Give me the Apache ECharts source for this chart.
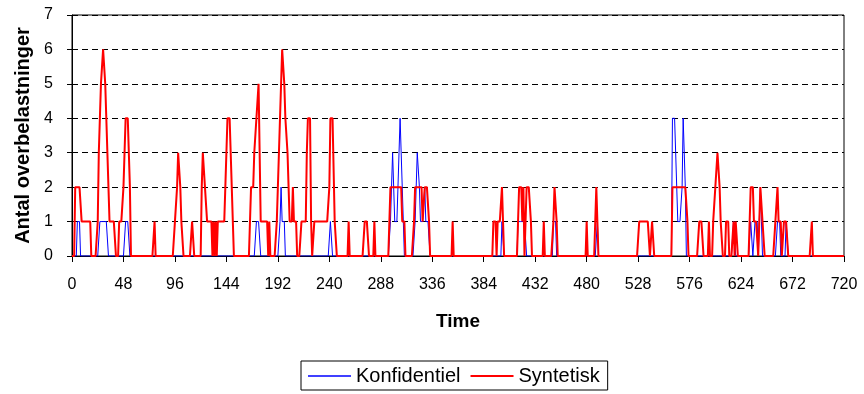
<!DOCTYPE html>
<html>
<head>
<meta charset="utf-8">
<script src="https://cdn.jsdelivr.net/npm/echarts@6/dist/echarts.min.js"></script>
<style>
  html, body { margin: 0; padding: 0; background: #ffffff; }
  #chart { width: 864px; height: 394px; }
</style>
</head>
<body>
<div id="chart"></div>
<script>
// Number of overloads per hour, 30 days (one row per day) plus the closing hour 720.
const konfidentiel = [
  0,0,0,0,0,1,1,1,0,0,0,0,0,0,0,0,0,0,0,0,0,0,0,0,
  0,0,1,1,1,1,1,1,1,1,0,0,0,0,0,0,0,0,0,0,0,0,0,0,
  0,0,1,1,1,1,0,0,0,0,0,0,0,0,0,0,0,0,0,0,0,0,0,0,
  0,0,0,0,0,0,0,0,0,0,0,0,0,0,0,0,0,0,0,0,0,0,0,0,
  0,0,0,0,0,0,0,0,0,0,0,0,0,0,0,0,0,0,0,0,0,0,0,0,
  0,0,0,0,0,0,0,0,0,0,0,0,0,0,0,0,0,0,0,0,0,0,0,0,
  0,0,0,0,0,0,0,0,0,0,0,0,0,0,0,0,0,0,0,0,0,0,0,0,
  0,0,0,0,1,1,1,1,0,0,0,0,0,0,0,0,0,0,0,0,0,0,0,0,
  0,0,1,2,1,1,1,0,0,0,0,0,0,0,0,0,0,0,0,0,0,0,0,0,
  0,0,0,0,0,0,0,0,0,0,0,0,0,0,0,0,0,0,0,0,0,0,0,0,
  0,1,1,0,0,0,0,0,0,0,0,0,0,0,0,0,0,0,0,0,0,0,0,0,
  0,0,0,0,0,0,0,0,0,0,0,0,0,0,0,0,0,0,0,0,0,0,0,0,
  0,0,0,0,0,0,0,0,0,1,2,3,3,1,1,1,2,3,4,4,2,1,0,0,
  0,0,0,0,0,0,0,0,1,2,3,3,2,1,1,1,1,2,1,1,1,1,0,0,
  0,0,0,0,0,0,0,0,0,0,0,0,0,0,0,0,0,0,0,0,0,0,0,0,
  0,0,0,0,0,0,0,0,0,0,0,0,0,0,0,0,0,0,0,0,0,0,0,0,
  0,0,0,0,0,0,0,0,0,0,0,0,0,0,0,0,0,1,1,0,0,0,0,0,
  0,0,0,0,0,0,0,0,1,1,1,1,1,1,1,1,0,0,0,0,0,0,0,0,
  0,0,0,0,0,0,0,0,0,0,0,0,0,0,0,0,0,1,1,1,0,0,0,0,
  0,0,0,0,0,0,0,0,0,0,0,0,0,0,0,0,0,0,0,0,0,0,0,0,
  0,0,0,0,0,0,0,0,0,0,1,0,0,0,0,0,0,0,0,0,0,0,0,0,
  0,0,0,0,0,0,0,0,0,0,0,0,0,0,0,0,0,0,0,0,0,0,0,0,
  0,0,0,0,0,0,0,0,0,0,0,0,0,0,0,0,0,0,0,0,0,0,0,0,
  0,0,0,0,0,0,0,0,4,4,4,3,2,1,1,1,1,2,4,3,2,0,0,0,
  0,0,0,0,0,0,0,0,0,0,0,0,0,0,0,0,0,0,0,0,0,0,0,0,
  0,0,0,0,0,0,0,0,0,0,0,0,0,0,0,0,0,1,1,0,0,0,0,0,
  0,0,0,0,0,0,0,0,0,1,1,0,0,1,1,1,0,1,2,1,0,0,0,0,
  0,0,0,0,0,0,0,0,0,0,1,1,1,0,0,0,0,0,1,1,0,0,0,0,
  0,0,0,0,0,0,0,0,0,0,0,0,0,0,0,0,0,0,0,0,0,0,0,0,
  0,0,0,0,0,0,0,0,0,0,0,0,0,0,0,0,0,0,0,0,0,0,0,0,
  0
];

const syntetisk = [
  0,0,0,2,2,2,2,2,2,1,1,1,1,1,1,1,1,1,0,0,0,0,0,0,
  1,3,4,5,5,6,6,5,4,4,2,1,1,1,1,1,1,0,0,0,1,1,1,1,
  2,3,4,4,4,4,2,0,0,0,0,0,0,0,0,0,0,0,0,0,0,0,0,0,
  0,0,0,0,0,1,0,0,0,0,0,0,0,0,0,0,0,0,0,0,0,0,0,0,
  1,1,2,3,3,2,1,1,0,0,0,0,0,0,0,0,1,1,0,0,0,0,0,0,
  0,2,3,3,2,2,1,1,1,1,1,0,1,0,1,0,1,1,1,1,1,1,1,2,
  3,4,4,4,4,2,1,0,0,0,0,0,0,0,0,0,0,0,0,0,0,0,1,2,
  2,2,3,3,4,4,5,3,1,1,1,1,1,1,1,0,1,0,0,0,0,0,0,1,
  2,3,4,5,6,6,5,4,4,3,2,1,1,1,2,1,1,1,0,0,0,0,1,1,
  1,1,1,3,4,4,4,1,0,0,1,1,1,1,1,1,1,1,1,1,1,1,1,1,
  2,4,4,4,4,1,1,0,0,0,0,0,0,0,0,0,0,0,1,0,0,0,0,0,
  0,0,0,0,0,0,0,0,0,1,1,1,1,0,0,0,0,0,1,0,0,0,0,0,
  0,0,0,0,0,0,0,0,1,2,2,2,2,2,2,2,2,2,2,2,1,1,1,0,
  0,0,0,0,0,0,0,1,2,2,2,2,2,2,2,1,1,2,2,2,2,1,0,0,
  0,0,0,0,0,0,0,0,0,0,0,0,0,0,0,0,0,0,0,1,0,0,0,0,
  0,0,0,0,0,0,0,0,0,0,0,0,0,0,0,0,0,0,0,0,0,0,0,0,
  0,0,0,0,0,0,0,0,0,1,1,1,0,1,1,1,1,2,1,0,0,0,0,0,
  0,0,0,0,0,0,0,0,1,2,2,2,1,2,0,1,2,2,2,2,1,0,0,0,
  0,0,0,0,0,0,0,0,1,0,0,0,0,0,0,0,0,1,2,2,1,0,0,0,
  0,0,0,0,0,0,0,0,0,0,0,0,0,0,0,0,0,0,0,0,0,0,0,0,
  1,0,0,0,0,0,0,0,0,2,1,0,0,0,0,0,0,0,0,0,0,0,0,0,
  0,0,0,0,0,0,0,0,0,0,0,0,0,0,0,0,0,0,0,0,0,0,0,0,
  0,1,1,1,1,1,1,1,1,1,1,0,0,1,1,0,0,0,0,0,0,0,0,0,
  0,0,0,0,0,0,0,0,2,2,2,2,2,2,2,2,2,2,2,2,2,2,1,0,
  0,0,0,0,0,0,0,0,0,1,1,1,1,0,0,0,0,0,1,0,0,0,1,1,
  2,2,3,3,2,1,1,0,0,0,1,1,1,0,0,0,0,1,0,1,1,0,0,0,
  0,0,0,0,0,0,0,0,1,2,2,2,1,1,1,1,0,1,2,2,1,1,0,0,
  0,0,0,0,0,0,0,0,1,1,2,1,1,1,0,0,1,1,1,1,0,0,0,0,
  0,0,0,0,0,0,0,0,0,0,0,0,0,0,0,0,0,0,1,0,0,0,0,0,
  0,0,0,0,0,0,0,0,0,0,0,0,0,0,0,0,0,0,0,0,0,0,0,0,
  0
];

const xTicks = [0, 48, 96, 144, 192, 240, 288, 336, 384, 432, 480, 528, 576, 624, 672, 720];
const yTicks = [0, 1, 2, 3, 4, 5, 6, 7];
const seriesNames = ['Konfidentiel', 'Syntetisk'];
const xTitle = 'Time';
const yTitle = 'Antal overbelastninger';

const FONT = '"Liberation Sans", Arial, sans-serif';
const asPoints = values => values.map((v, hour) => [hour, v]);

const chart = echarts.init(document.getElementById('chart'), null, { renderer: 'canvas' });
chart.setOption({
  animation: false,
  backgroundColor: '#ffffff',
  textStyle: { fontFamily: FONT, color: '#000' },
  grid: {
    left: 72, right: 20, top: 15, bottom: 138,
    show: true, borderColor: '#000', borderWidth: 1, backgroundColor: 'transparent'
  },
  xAxis: {
    type: 'value',
    min: xTicks[0], max: xTicks[xTicks.length - 1], interval: 48,
    name: xTitle, nameLocation: 'middle', nameGap: 56,
    nameTextStyle: { fontFamily: FONT, fontWeight: 'bold', fontSize: 19, color: '#000' },
    axisLine: { show: true, lineStyle: { color: '#000', width: 1 } },
    axisTick: { show: true, length: 6, lineStyle: { color: '#000' } },
    axisLabel: {
      margin: 21, fontSize: 16, color: '#000', fontFamily: FONT,
      formatter: v => (xTicks.includes(v) ? String(v) : '')
    },
    splitLine: { show: false }
  },
  yAxis: {
    type: 'value',
    min: yTicks[0], max: yTicks[yTicks.length - 1], interval: 1,
    name: yTitle, nameLocation: 'middle', nameGap: 38, nameRotate: 90,
    nameTextStyle: { fontFamily: FONT, fontWeight: 'bold', fontSize: 20, color: '#000' },
    axisLine: { show: true, lineStyle: { color: '#000', width: 1 } },
    axisTick: { show: true, length: 5, lineStyle: { color: '#000' } },
    axisLabel: {
      margin: 19, fontSize: 16, color: '#000', fontFamily: FONT,
      formatter: v => (yTicks.includes(v) ? String(v) : '')
    },
    splitLine: { show: true, lineStyle: { color: '#000', width: 1, type: [6, 4] } }
  },
  legend: {
    // plain line keys: thin blue, thicker red
    data: [
      { name: seriesNames[0], icon: 'path://M0,0H43V1.5H0Z' },
      { name: seriesNames[1], icon: 'path://M0,0H43V2H0Z' }
    ],
    left: 301, top: 361,
    padding: [5, 8, 4, 7],
    itemWidth: 43, itemHeight: 13, itemGap: 10,
    borderColor: '#000', borderWidth: 1, backgroundColor: '#fff',
    textStyle: { fontFamily: FONT, fontSize: 20, color: '#000' }
  },
  series: [
    {
      name: seriesNames[0], type: 'line', data: asPoints(konfidentiel),
      symbol: 'none', showSymbol: false,
      lineStyle: { color: '#0000ff', width: 1 }, itemStyle: { color: '#0000ff' },
      z: 2
    },
    {
      name: seriesNames[1], type: 'line', data: asPoints(syntetisk),
      symbol: 'none', showSymbol: false,
      lineStyle: { color: '#ff0000', width: 2 }, itemStyle: { color: '#ff0000' },
      z: 3
    }
  ]
});
</script>
</body>
</html>
